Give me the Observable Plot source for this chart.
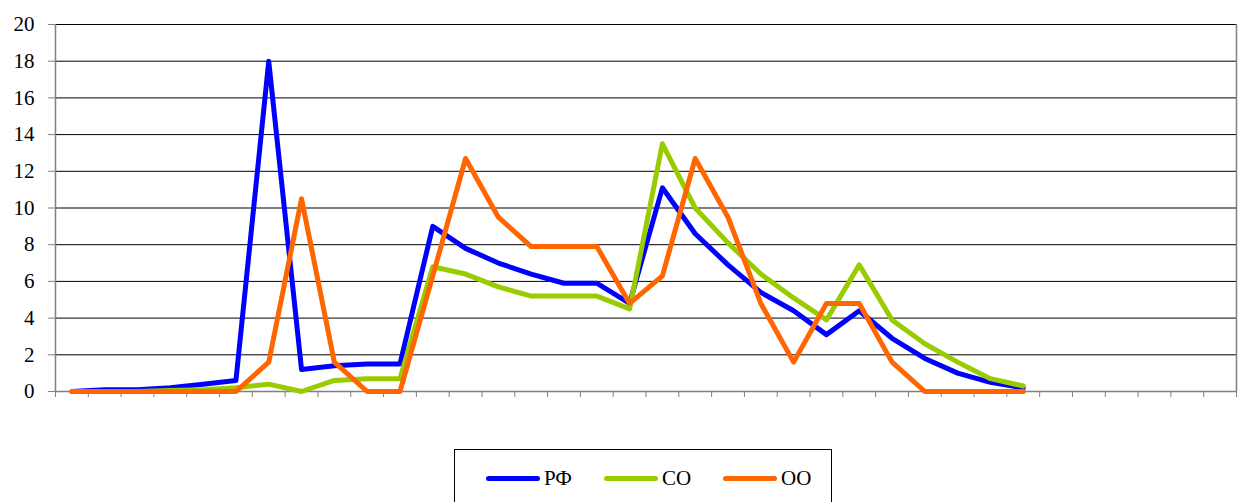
<!DOCTYPE html>
<html>
<head>
<meta charset="utf-8">
<script src="https://cdn.jsdelivr.net/npm/d3@7"></script>
<script src="https://cdn.jsdelivr.net/npm/@observablehq/plot@0.6"></script>
<style>
  html, body { margin: 0; padding: 0; background: #fff; font-family: 'Liberation Serif', serif; }
  #chart svg { display: block; }
  #legend { margin-left: 454px; width: 378px; height: 60px; border: 1px solid #000; box-sizing: border-box; position: relative; }
  .item { position: absolute; top: 17px; font-size: 21px; color: #000; line-height: 22px; white-space: nowrap; font-family: 'Liberation Serif', serif; }
  .sw { display: inline-block; width: 54px; height: 5px; border-radius: 3px; vertical-align: middle; margin-right: 4px; position: relative; top: -2px; }
  #err { color: red; font-size: 12px; }
</style>
</head>
<body>
<div id="chart"></div>
<div id="legend"></div>
<div id="err"></div>
<script>
const nCategories = 36;
const seriesNames = ["РФ", "СО", "ОО"];
const seriesColors = ["#0000FF", "#99CC00", "#FF6600"];
const valuesRF = [0, 0.1, 0.1, 0.2, 0.4, 0.6, 18, 1.2, 1.4, 1.5, 1.5, 9.0, 7.8, 7.0, 6.4, 5.9, 5.9, 4.8, 11.1, 8.6, 6.9, 5.4, 4.4, 3.1, 4.4, 2.9, 1.8, 1.0, 0.5, 0.2];
const valuesSO = [0, 0, 0, 0.05, 0.1, 0.2, 0.4, 0, 0.6, 0.7, 0.7, 6.8, 6.4, 5.7, 5.2, 5.2, 5.2, 4.5, 13.5, 10.0, 8.1, 6.4, 5.1, 3.9, 6.9, 3.9, 2.6, 1.6, 0.7, 0.3];
const valuesOO = [0, 0, 0, 0, 0, 0, 1.6, 10.5, 1.6, 0, 0, 6.3, 12.7, 9.5, 7.9, 7.9, 7.9, 4.8, 6.3, 12.7, 9.5, 4.8, 1.6, 4.8, 4.8, 1.6, 0, 0, 0, 0];
const yTicks = [0, 2, 4, 6, 8, 10, 12, 14, 16, 18, 20];

try {
  const allSeries = [valuesRF, valuesSO, valuesOO];
  const rows = allSeries.flatMap((vals, s) => vals.map((v, i) => ({series: seriesNames[s], i: i + 0.5, v})));

  const svg = Plot.plot({
    width: 1238,
    height: 449,
    marginLeft: 55,
    marginRight: 2,
    marginTop: 24,
    marginBottom: 58,
    style: {background: "#fff", color: "#000", fontFamily: "'Liberation Serif', serif"},
    x: {domain: [0, nCategories], axis: null},
    y: {domain: [0, 20], axis: null},
    color: {domain: seriesNames, range: seriesColors},
    marks: [
      Plot.gridY(yTicks.filter(d => d > 0), {stroke: "#000", strokeOpacity: 1, strokeWidth: 1}),
      Plot.axisY(yTicks, {tickSize: 7, tickPadding: 14, stroke: "#808080", fill: "#000", fontSize: 21, label: null, tickFormat: d => String(d)}),
      Plot.axisX(d3.range(0, nCategories + 1), {tickSize: 6, stroke: "#808080", tickFormat: () => "", label: null}),
      Plot.ruleX([0, nCategories], {stroke: "#808080", strokeWidth: 1.5}),
      Plot.ruleY([0], {stroke: "#808080", strokeWidth: 1.5}),
      Plot.line(rows, {x: "i", y: "v", z: "series", stroke: "series", strokeWidth: 5, strokeLinejoin: "round", strokeLinecap: "round"})
    ]
  });
  svg.setAttribute("font-family", "Liberation Serif, serif");
  svg.querySelectorAll("text").forEach(t => { t.style.fontFamily = "'Liberation Serif', serif"; t.style.fontSize = "21px"; });
  document.getElementById("chart").appendChild(svg);

  const legendBox = document.getElementById("legend");
  const lefts = [31, 149, 268];
  seriesNames.forEach((name, k) => {
    const it = document.createElement("div");
    it.className = "item";
    it.style.left = lefts[k] + "px";
    const sw = document.createElement("span");
    sw.className = "sw";
    sw.style.background = seriesColors[k];
    it.appendChild(sw);
    it.appendChild(document.createTextNode(name));
    legendBox.appendChild(it);
  });
} catch (e) {
  document.getElementById("err").textContent = String(e && e.stack || e);
}
</script>
</body>
</html>
